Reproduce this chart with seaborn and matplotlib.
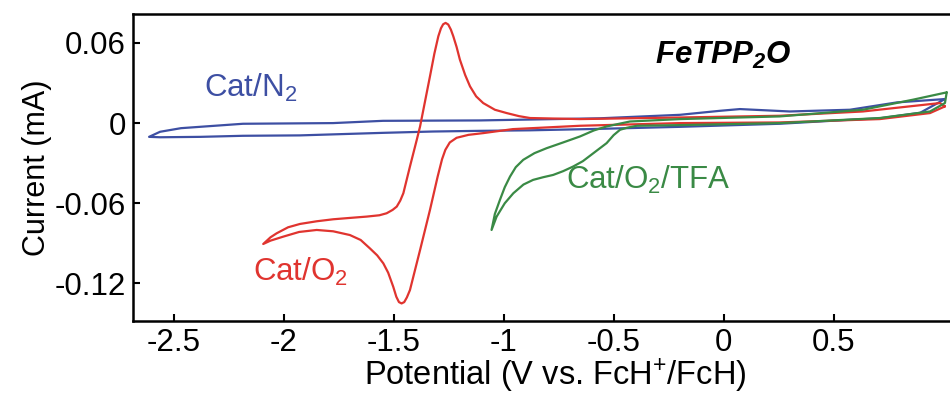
import pandas as pd
import seaborn as sns
import matplotlib.pyplot as plt

# Cat/N2 (blue)
n2_potential = [1.006, 0.893, 0.710, 0.574, 0.255, -0.199, -0.562, -0.880, -1.108, -1.321,
                -1.549, -1.926, -2.185, -2.380, -2.562, -2.612,
                -2.562, -2.467, -2.185, -1.776, -1.549, -1.108, -0.562, -0.199, -0.017,
                0.074, 0.301, 0.574, 0.788, 1.006]
n2_current = [0.018, 0.0077, 0.0036, 0.0025, -0.0005, -0.0028, -0.0043, -0.0054, -0.0058, -0.0063,
              -0.0073, -0.0092, -0.0095, -0.0103, -0.0106, -0.0103,
              -0.0065, -0.0038, -0.0005, 0.0, 0.0017, 0.002, 0.0036, 0.0062, 0.0092,
              0.0105, 0.0087, 0.010, 0.0155, 0.018]

# Cat/O2 (red)
o2_potential = [1.006, 0.938, 0.710, 0.255, -0.199, -0.653, -0.958, -1.093, -1.160, -1.214,
                -1.245, -1.265, -1.280, -1.300, -1.335, -1.380, -1.426, -1.440, -1.452, -1.464,
                -1.476, -1.488, -1.502, -1.525, -1.547, -1.575, -1.608, -1.650, -1.699, -1.775,
                -1.850, -1.930, -2.002, -2.060, -2.093,
                -2.060, -2.032, -1.980, -1.926, -1.850, -1.775, -1.700, -1.623, -1.565, -1.532,
                -1.505, -1.486, -1.470, -1.456, -1.426, -1.395, -1.380,
                -1.335, -1.315, -1.297, -1.285, -1.275, -1.264, -1.252, -1.240, -1.229, -1.214,
                -1.199, -1.175, -1.153, -1.125, -1.093, -1.040, -0.986, -0.930,
                -0.880, -0.653, -0.199, 0.255, 0.633, 0.983, 1.006]
o2_current = [0.0125, 0.0075, 0.003, 0.0005, 0.0, -0.002, -0.0045, -0.0075, -0.0088, -0.011,
              -0.0145, -0.020, -0.027, -0.040, -0.065, -0.095, -0.125, -0.1305, -0.134, -0.135,
              -0.134, -0.130, -0.1225, -0.112, -0.105, -0.099, -0.0938, -0.0875, -0.0838, -0.081,
              -0.080, -0.0815, -0.085, -0.088, -0.0905,
              -0.0855, -0.0825, -0.078, -0.0755, -0.0735, -0.072, -0.071, -0.070, -0.069, -0.0675,
              -0.065, -0.0625, -0.058, -0.0525, -0.0325, -0.0125, -0.0025,
              0.035, 0.052, 0.065, 0.071, 0.074, 0.075, 0.0738, 0.070, 0.065, 0.057,
              0.0475, 0.036, 0.0275, 0.020, 0.015, 0.010, 0.0075, 0.0052,
              0.0038, 0.003, 0.0042, 0.0055, 0.0087, 0.015, 0.0125]

# Cat/O2/TFA (green)
tfa_potential = [1.014, 1.006, 0.938, 0.710, 0.255, -0.199, -0.395, -0.440, -0.471, -0.500,
                 -0.532, -0.592, -0.640, -0.684, -0.730, -0.775, -0.820, -0.866, -0.910, -0.956,
                 -0.995, -1.032, -1.055,
                 -1.040, -1.017, -0.995, -0.971, -0.945, -0.911, -0.860, -0.805, -0.730, -0.653,
                 -0.590, -0.532, -0.426, -0.199, 0.255, 0.633, 0.860, 1.014]
tfa_current = [0.023, 0.015, 0.0087, 0.0038, 0.0, -0.0015, -0.002, -0.0035, -0.005, -0.009,
               -0.015, -0.0225, -0.0285, -0.0325, -0.036, -0.0388, -0.0405, -0.0425, -0.046, -0.0525,
               -0.060, -0.070, -0.080,
               -0.068, -0.0575, -0.048, -0.040, -0.033, -0.0275, -0.0225, -0.0188, -0.0145, -0.010,
               -0.0055, -0.0025, 0.0012, 0.003, 0.005, 0.010, 0.0175, 0.023]

x_ticks = [-2.5, -2, -1.5, -1, -0.5, 0, 0.5]
x_ticklabels = ["-2.5", "-2", "-1.5", "-1", "-0.5", "0", "0.5"]
y_ticks = [0.06, 0, -0.06, -0.12]
y_ticklabels = ["0.06", "0", "-0.06", "-0.12"]

blue = "#3d4fa3"
red = "#e0342f"
green = "#3a8a45"

sns.set_theme(style="ticks")
plt.rcParams['font.family'] = ['Liberation Sans', 'DejaVu Sans']
plt.rcParams['mathtext.default'] = 'regular'
plt.rcParams['axes.unicode_minus'] = False
plt.rcParams['text.color'] = 'black'
plt.rcParams['axes.labelcolor'] = 'black'

fig = plt.figure(figsize=(9.5, 3.99), dpi=100)
ax = fig.add_axes([0.14, 0.196, 0.86, 0.769])

curves = [
    (n2_potential, n2_current, blue),
    (o2_potential, o2_current, red),
    (tfa_potential, tfa_current, green),
]
for pot, cur, col in curves:
    df = pd.DataFrame({"potential": pot, "current": cur})
    sns.lineplot(data=df, x="potential", y="current", sort=False, estimator=None,
                 color=col, linewidth=1.6, ax=ax)

ax.set_xlim(-2.685, 1.029)
ax.set_ylim(-0.148, 0.0817)
ax.set_xticks(x_ticks)
ax.set_xticklabels(x_ticklabels)
ax.set_yticks(y_ticks)
ax.set_yticklabels(y_ticklabels)
ax.tick_params(direction="in", length=5, width=1.5, labelsize=22.5, pad=5, colors="black")

for side in ["left", "bottom", "top"]:
    ax.spines[side].set_linewidth(1.8)
    ax.spines[side].set_color("black")
ax.spines["right"].set_visible(False)

ax.set_xlabel("Potential (V vs. FcH$^{+}$/FcH)", fontsize=23.5, labelpad=-1)
ax.xaxis.label.set_x(0.5165)
ax.set_ylabel("Current (mA)", fontsize=22, labelpad=2)

# curve labels
ax.text(-2.15, 0.026, "Cat/N$_2$", color=blue, fontsize=22.5, ha="center", va="center")
ax.text(-1.925, -0.1115, "Cat/O$_2$", color=red, fontsize=22.5, ha="center", va="center")
ax.text(-0.344, -0.0425, "Cat/O$_2$/TFA", color=green, fontsize=22.5, ha="center", va="center")
ax.text(0.0, 0.051, "FeTPP$_2$O", color="black", fontsize=22.5, fontweight="bold",
        fontstyle="italic", ha="center", va="center")

fig.savefig("out.png", dpi=100)
